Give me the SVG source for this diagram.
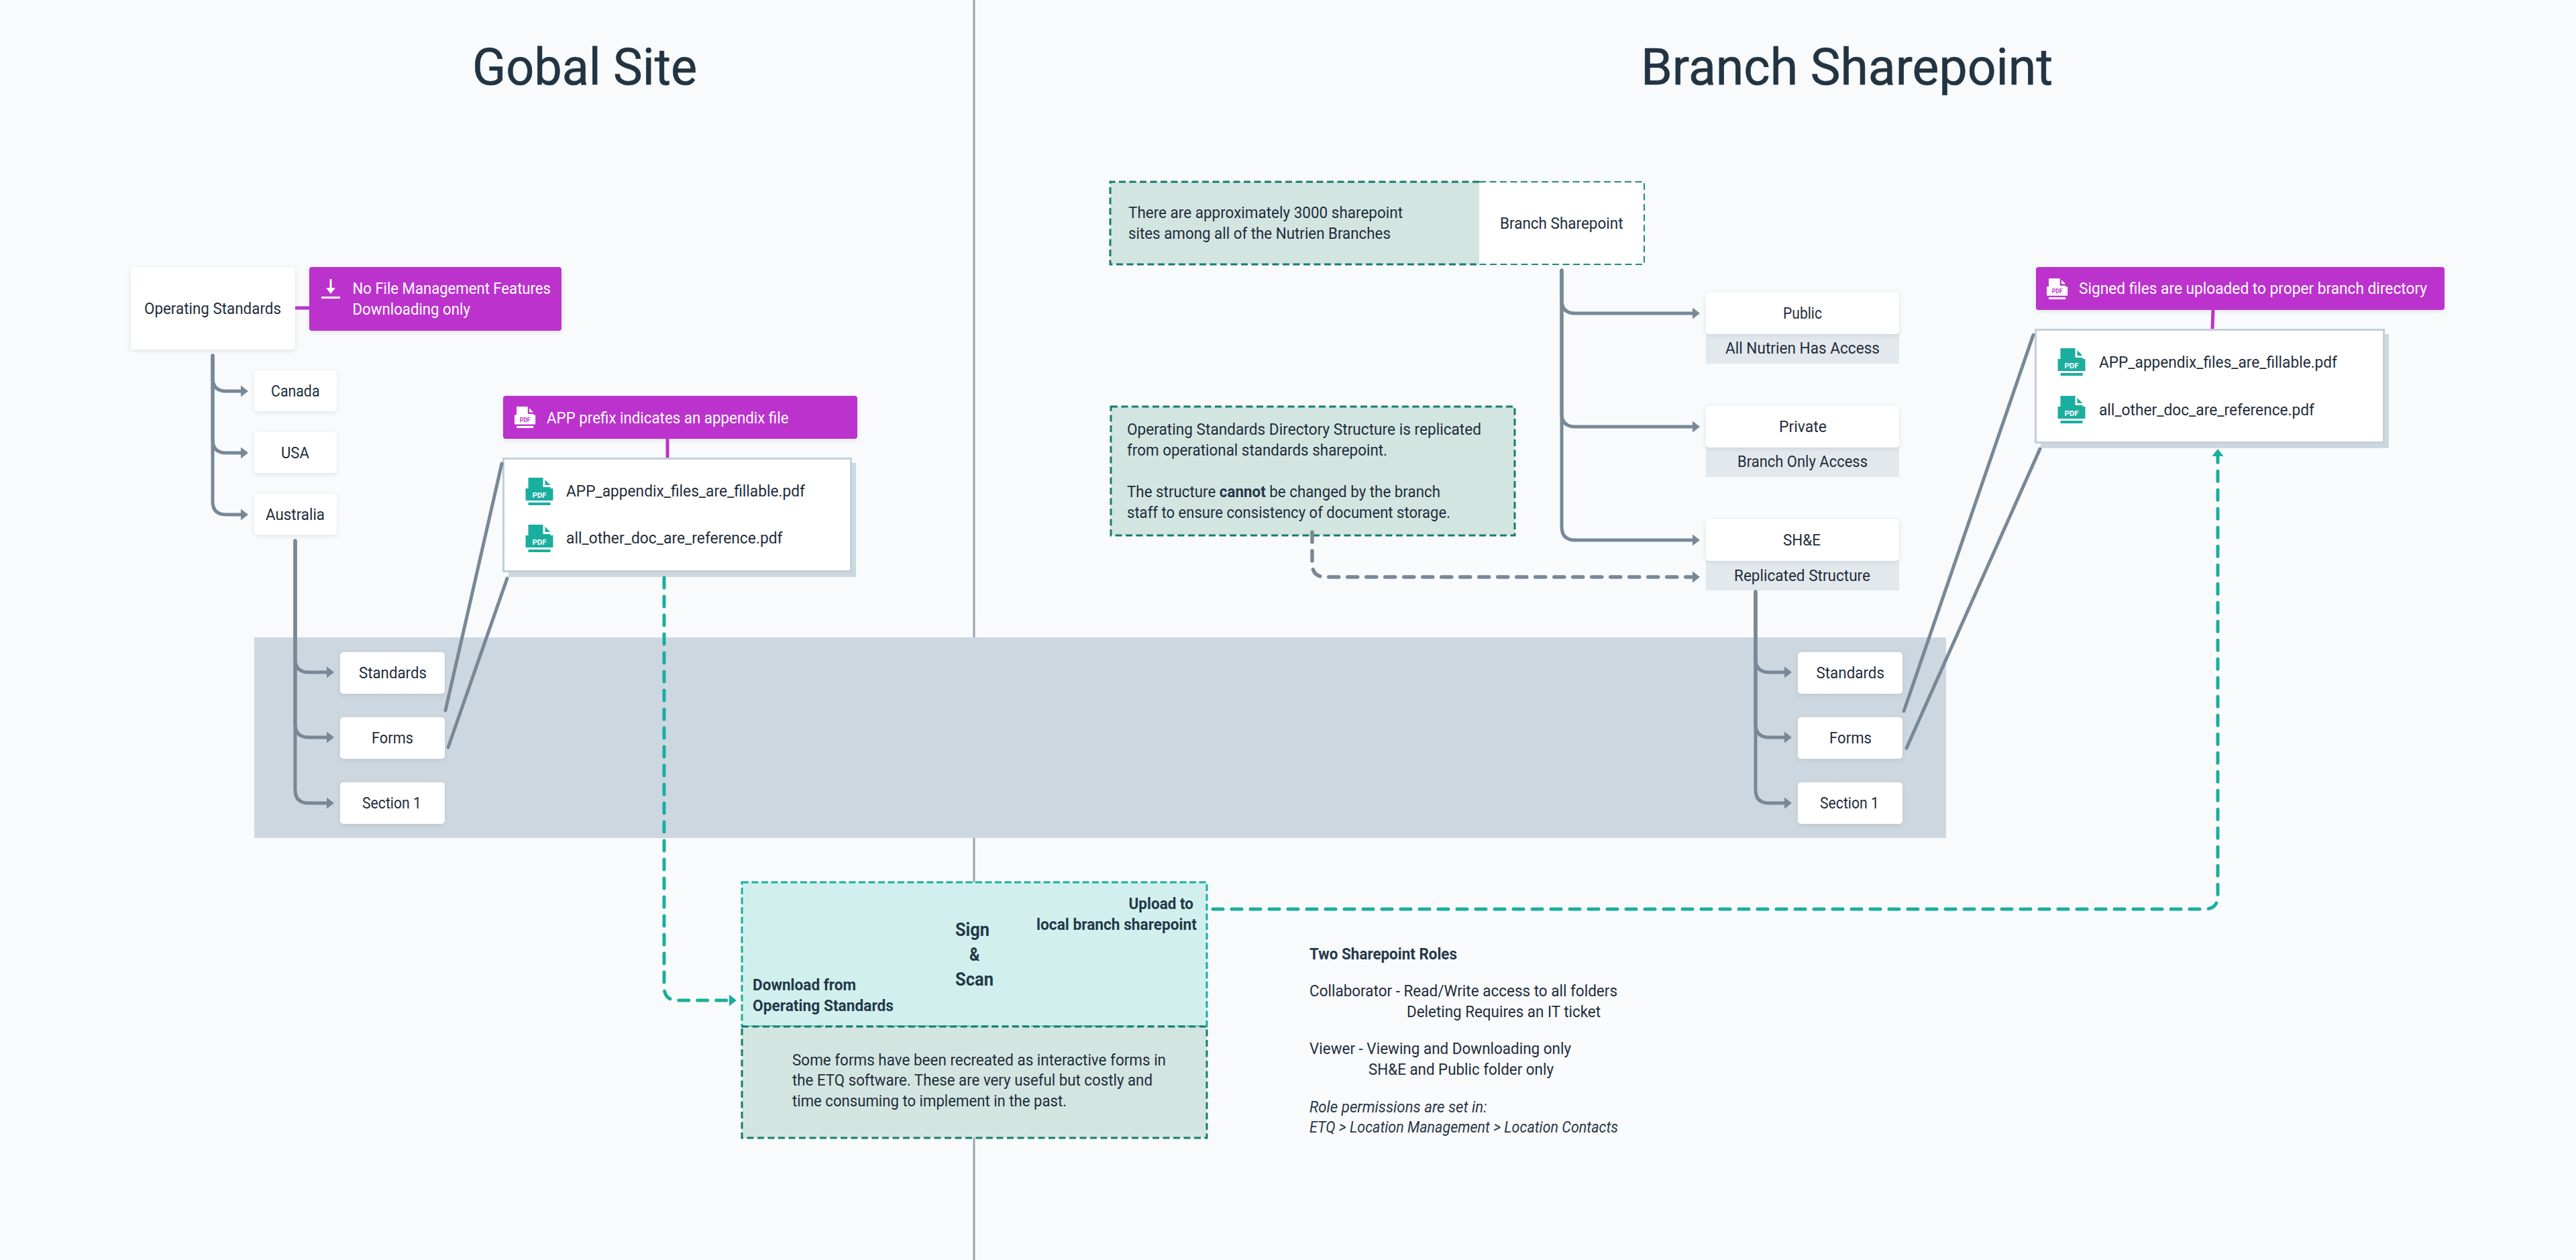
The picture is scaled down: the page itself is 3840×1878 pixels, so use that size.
<svg xmlns="http://www.w3.org/2000/svg" width="3840" height="1878" viewBox="0 0 3840 1878">
<style>
text{font-family:Roboto,"Liberation Sans",sans-serif;font-size:23px;fill:#1f2d3b}
.title{font-size:76px;font-weight:400;fill:#223442;stroke:#223442;stroke-width:.6px}
.b{font-weight:700;fill:#24384a}
.big{font-size:27px}
.i{font-style:italic;fill:#293845}
.w{fill:#fff}
.box{fill:#fff;filter:url(#sh)}
.sub{fill:#e3e8ed}
.call{fill:#bc31cd;filter:url(#sh)}
.file{fill:#fff;stroke:#c3cfd9;stroke-width:3}
.fileback{fill:#ccd7e0}
.fill{fill:#d3e5e1}
.note{fill:#d3e5e1;stroke:#147d6b;stroke-width:3;stroke-dasharray:10 5.5}
.edge{fill:none;stroke:#147d6b;stroke-width:3;stroke-dasharray:10 5.5}
.thin{fill:none;stroke:#1f8a78;stroke-width:2;stroke-dasharray:10 5.5}
.conn{fill:none;stroke:#788896;stroke-width:5;stroke-linecap:round}
.arr{marker-end:url(#ag)}
.dg{stroke-width:5.5;stroke-dasharray:15 13}
.pur{fill:none;stroke:#bc31cd;stroke-width:5}
.tl{fill:none;stroke:#1aae9f;stroke-width:5;stroke-linecap:round;stroke-dasharray:15 13}
.pdf{font-weight:700;font-size:11.5px;fill:#fff;text-anchor:middle}
.pdfp{font-weight:700;font-size:8.5px;fill:#bc31cd;text-anchor:middle}
</style>
<defs>
<filter id="sh" x="-10%" y="-10%" width="120%" height="130%"><feDropShadow dx="0" dy="2" stdDeviation="3" flood-color="#4b5c6b" flood-opacity="0.14"/></filter>
<marker id="ag" markerUnits="userSpaceOnUse" markerWidth="12" markerHeight="18" refX="1" refY="9" orient="auto"><path d="M0 .5 L11 9 L0 17.5Z" fill="#788896"/></marker>
<marker id="at" markerUnits="userSpaceOnUse" markerWidth="12" markerHeight="18" refX="1" refY="9" orient="auto"><path d="M0 .5 L11 9 L0 17.5Z" fill="#1aae9f"/></marker>
<g id="doc"><path fill="currentColor" d="M4 0H26V14H37V16H41V33a1 1 0 0 1-1 1H1a1 1 0 0 1-1-1V16H4Z"/><path fill="currentColor" d="M29 3L37 11H29Z"/><rect fill="currentColor" x="4" y="37" width="33" height="4"/></g>
</defs>
<rect id="background" width="3840" height="1878" fill="#f8fafc"/>
<rect id="divider" x="1450.5" y="0" width="3" height="1878" fill="#9aa5b1"/>
<rect id="band" x="379" y="950" width="2522" height="299" fill="#cdd7e0"/>
<text id="title-global" class="title" x="704" y="126" textLength="335" lengthAdjust="spacingAndGlyphs">Gobal Site</text>
<text id="title-branch" class="title" x="2446" y="126" textLength="614" lengthAdjust="spacingAndGlyphs">Branch Sharepoint</text>

<g id="node-operating-standards"><rect class="box" x="195" y="398" width="245" height="123" rx="5"/><text x="215" y="468" textLength="204" lengthAdjust="spacingAndGlyphs">Operating Standards</text></g>
<g id="note-no-file-management"><rect class="call" x="461" y="398" width="376" height="95" rx="4"/>
<path fill="#fff" d="M491.5 416h3v13h5.500l-7 9-7-9h5.500Z"/><rect class="w" x="479" y="442" width="28" height="3"/>
<text class="w" x="525.500" y="438" textLength="295.500" lengthAdjust="spacingAndGlyphs">No File Management Features</text><text class="w" x="525.500" y="469" textLength="175.500" lengthAdjust="spacingAndGlyphs">Downloading only</text></g>
<g id="node-canada"><rect class="box" x="379" y="552" width="123" height="61" rx="5"/><text x="404" y="591" textLength="72.500" lengthAdjust="spacingAndGlyphs">Canada</text></g>
<g id="node-usa"><rect class="box" x="379" y="644" width="123" height="61" rx="5"/><text x="419" y="683" textLength="42" lengthAdjust="spacingAndGlyphs">USA</text></g>
<g id="node-australia"><rect class="box" x="379" y="736" width="123" height="61" rx="5"/><text x="396" y="775" textLength="88" lengthAdjust="spacingAndGlyphs">Australia</text></g>
<g id="node-left-standards"><rect class="box" x="507" y="972" width="156" height="62" rx="5"/><text x="535" y="1011" textLength="101" lengthAdjust="spacingAndGlyphs">Standards</text></g>
<g id="node-left-forms"><rect class="box" x="507" y="1069" width="156" height="62" rx="5"/><text x="554" y="1108" textLength="62" lengthAdjust="spacingAndGlyphs">Forms</text></g>
<g id="node-left-section"><rect class="box" x="507" y="1166" width="156" height="62" rx="5"/><text x="540" y="1205" textLength="88" lengthAdjust="spacingAndGlyphs">Section 1</text></g>

<g id="note-app-prefix"><rect class="call" x="750" y="590" width="528" height="64" rx="4"/>
<use href="#doc" transform="translate(767 606) scale(.76 .78)" color="#fff"/><text class="pdfp" x="782.500" y="629">PDF</text>
<text class="w" x="815" y="631" textLength="360.500" lengthAdjust="spacingAndGlyphs">APP prefix indicates an appendix file</text></g>
<g id="node-left-files"><rect class="fileback" x="758" y="690" width="518" height="170"/><rect class="file" x="750.500" y="683.500" width="518" height="168"/>
<use href="#doc" transform="translate(783.500 712)" color="#1aae9f"/><text class="pdf" x="804" y="742">PDF</text>
<text x="844" y="740" textLength="356" lengthAdjust="spacingAndGlyphs">APP_appendix_files_are_fillable.pdf</text>
<use href="#doc" transform="translate(783.500 782)" color="#1aae9f"/><text class="pdf" x="804" y="812">PDF</text>
<text x="844" y="810" textLength="322.500" lengthAdjust="spacingAndGlyphs">all_other_doc_are_reference.pdf</text></g>

<g id="node-sign-scan">
<rect x="1106" y="1315" width="693" height="215" fill="#d1f0ed" stroke="#1aae9f" stroke-width="3" stroke-dasharray="10 4.500"/>
<text class="b" x="1682.500" y="1355" textLength="96.500" lengthAdjust="spacingAndGlyphs">Upload to</text>
<text class="b" x="1545" y="1386" textLength="239" lengthAdjust="spacingAndGlyphs">local branch sharepoint</text>
<text class="b big" x="1424" y="1395" textLength="51" lengthAdjust="spacingAndGlyphs">Sign</text>
<text class="b big" x="1445" y="1432" textLength="15.500" lengthAdjust="spacingAndGlyphs">&amp;</text>
<text class="b big" x="1424" y="1469" textLength="57" lengthAdjust="spacingAndGlyphs">Scan</text>
<text class="b" x="1122" y="1476" textLength="154" lengthAdjust="spacingAndGlyphs">Download from</text>
<text class="b" x="1122" y="1507" textLength="210" lengthAdjust="spacingAndGlyphs">Operating Standards</text>
</g>
<g id="note-etq"><rect class="note" x="1106" y="1530" width="693" height="166"/>
<text x="1181" y="1588" textLength="557" lengthAdjust="spacingAndGlyphs">Some forms have been recreated as interactive forms in</text>
<text x="1181" y="1618" textLength="537" lengthAdjust="spacingAndGlyphs">the ETQ software. These are very useful but costly and</text>
<text x="1181" y="1649" textLength="409" lengthAdjust="spacingAndGlyphs">time consuming to implement in the past.</text></g>

<g id="node-branch-sharepoint"><rect class="fill" x="1655" y="271" width="550" height="123"/><rect fill="#fff" x="2205" y="271" width="246" height="123"/>
<path class="edge" d="M2205 271H1655V394H2205"/><path class="thin" d="M2205 271H2451V394H2205"/>
<text x="1682" y="325" textLength="409" lengthAdjust="spacingAndGlyphs">There are approximately 3000 sharepoint</text>
<text x="1682" y="356" textLength="391" lengthAdjust="spacingAndGlyphs">sites among all of the Nutrien Branches</text>
<text x="2236" y="341" textLength="183.500" lengthAdjust="spacingAndGlyphs">Branch Sharepoint</text></g>
<g id="node-public"><rect class="sub" x="2543" y="481" width="288" height="61"/><rect class="box" x="2543" y="436" width="288" height="62" rx="5"/>
<text x="2658" y="475" textLength="58" lengthAdjust="spacingAndGlyphs">Public</text><text x="2572" y="527" textLength="230" lengthAdjust="spacingAndGlyphs">All Nutrien Has Access</text></g>
<g id="node-private"><rect class="sub" x="2543" y="650" width="288" height="61"/><rect class="box" x="2543" y="605" width="288" height="62" rx="5"/>
<text x="2652" y="644" textLength="71" lengthAdjust="spacingAndGlyphs">Private</text><text x="2590" y="696" textLength="194" lengthAdjust="spacingAndGlyphs">Branch Only Access</text></g>
<g id="node-she"><rect class="sub" x="2543" y="819" width="288" height="61"/><rect class="box" x="2543" y="774" width="288" height="62" rx="5"/>
<text x="2658" y="813" textLength="56" lengthAdjust="spacingAndGlyphs">SH&amp;E</text><text x="2585" y="866" textLength="203" lengthAdjust="spacingAndGlyphs">Replicated Structure</text></g>
<g id="note-directory"><rect class="note" x="1656" y="606" width="602" height="192"/>
<text x="1680" y="648" textLength="528" lengthAdjust="spacingAndGlyphs">Operating Standards Directory Structure is replicated</text>
<text x="1680" y="679" textLength="388" lengthAdjust="spacingAndGlyphs">from operational standards sharepoint.</text>
<text x="1680" y="741" textLength="467" lengthAdjust="spacingAndGlyphs">The structure <tspan class="b">cannot</tspan> be changed by the branch</text>
<text x="1680" y="772" textLength="482" lengthAdjust="spacingAndGlyphs">staff to ensure consistency of document storage.</text></g>
<g id="node-right-standards"><rect class="box" x="2680" y="972" width="156" height="62" rx="5"/><text x="2707.500" y="1011" textLength="101.500" lengthAdjust="spacingAndGlyphs">Standards</text></g>
<g id="node-right-forms"><rect class="box" x="2680" y="1069" width="156" height="62" rx="5"/><text x="2727" y="1108" textLength="63" lengthAdjust="spacingAndGlyphs">Forms</text></g>
<g id="node-right-section"><rect class="box" x="2680" y="1166" width="156" height="62" rx="5"/><text x="2713" y="1205" textLength="88" lengthAdjust="spacingAndGlyphs">Section 1</text></g>

<g id="note-signed"><rect class="call" x="3035" y="398" width="609" height="64" rx="4"/>
<use href="#doc" transform="translate(3051 415) scale(.76 .76)" color="#fff"/><text class="pdfp" x="3066.500" y="437">PDF</text>
<text class="w" x="3099" y="438" textLength="519" lengthAdjust="spacingAndGlyphs">Signed files are uploaded to proper branch directory</text></g>
<g id="node-right-files"><rect class="fileback" x="3042" y="498" width="519" height="170"/><rect class="file" x="3034.500" y="491.500" width="519" height="168"/>
<use href="#doc" transform="translate(3067.500 519)" color="#1aae9f"/><text class="pdf" x="3088" y="549">PDF</text>
<text x="3129" y="548" textLength="355" lengthAdjust="spacingAndGlyphs">APP_appendix_files_are_fillable.pdf</text>
<use href="#doc" transform="translate(3067.500 590)" color="#1aae9f"/><text class="pdf" x="3088" y="620">PDF</text>
<text x="3129" y="619" textLength="321" lengthAdjust="spacingAndGlyphs">all_other_doc_are_reference.pdf</text></g>

<g id="roles-text">
<text class="b" x="1952" y="1430" textLength="220" lengthAdjust="spacingAndGlyphs">Two Sharepoint Roles</text>
<text x="1952" y="1485" textLength="459" lengthAdjust="spacingAndGlyphs">Collaborator - Read/Write access to all folders</text>
<text x="2097" y="1516" textLength="289" lengthAdjust="spacingAndGlyphs">Deleting Requires an IT ticket</text>
<text x="1952" y="1571" textLength="390" lengthAdjust="spacingAndGlyphs">Viewer - Viewing and Downloading only</text>
<text x="2040" y="1602" textLength="276" lengthAdjust="spacingAndGlyphs">SH&amp;E and Public folder only</text>
<text class="i" x="1952" y="1658" textLength="264.500" lengthAdjust="spacingAndGlyphs">Role permissions are set in:</text>
<text class="i" x="1952" y="1688" textLength="460" lengthAdjust="spacingAndGlyphs">ETQ &gt; Location Management &gt; Location Contacts</text>
</g>

<g id="connectors">
<path class="conn arr" d="M317 530V563Q317 583 337 583H360"/>
<path class="conn arr" d="M317 530V655Q317 675 337 675H360"/>
<path class="conn arr" d="M317 530V747Q317 767 337 767H360"/>
<path class="conn arr" d="M440 806V982Q440 1002 460 1002H488"/>
<path class="conn arr" d="M440 806V1079Q440 1099 460 1099H488"/>
<path class="conn arr" d="M440 806V1177Q440 1197 460 1197H488"/>
<path class="conn" d="M664 1059L748 691"/>
<path class="conn" d="M668 1114L756 862"/>
<path class="pur" d="M440 459H461"/>
<path class="pur" d="M995 654V682"/>
<path class="pur" d="M3299 462L3298 490"/>
<path class="conn arr" d="M2328 403V447Q2328 467 2348 467H2524"/>
<path class="conn arr" d="M2328 403V616Q2328 636 2348 636H2524"/>
<path class="conn arr" d="M2328 403V785Q2328 805 2348 805H2524"/>
<path class="conn arr dg" d="M1956 793V840Q1956 860 1976 860H2524"/>
<path class="conn arr" d="M2617 882V982Q2617 1002 2637 1002H2661"/>
<path class="conn arr" d="M2617 882V1079Q2617 1099 2637 1099H2661"/>
<path class="conn arr" d="M2617 882V1177Q2617 1197 2637 1197H2661"/>
<path class="conn" d="M2838 1060L3031 499"/>
<path class="conn" d="M2842 1115L3041 669"/>
<path class="tl" style="marker-end:url(#at)" d="M990 861V1471Q990 1491 1010 1491H1088"/>
<path class="tl" style="marker-end:url(#at)" d="M1808 1355H3286Q3306 1355 3306 1335V679"/>
</g>
</svg>
